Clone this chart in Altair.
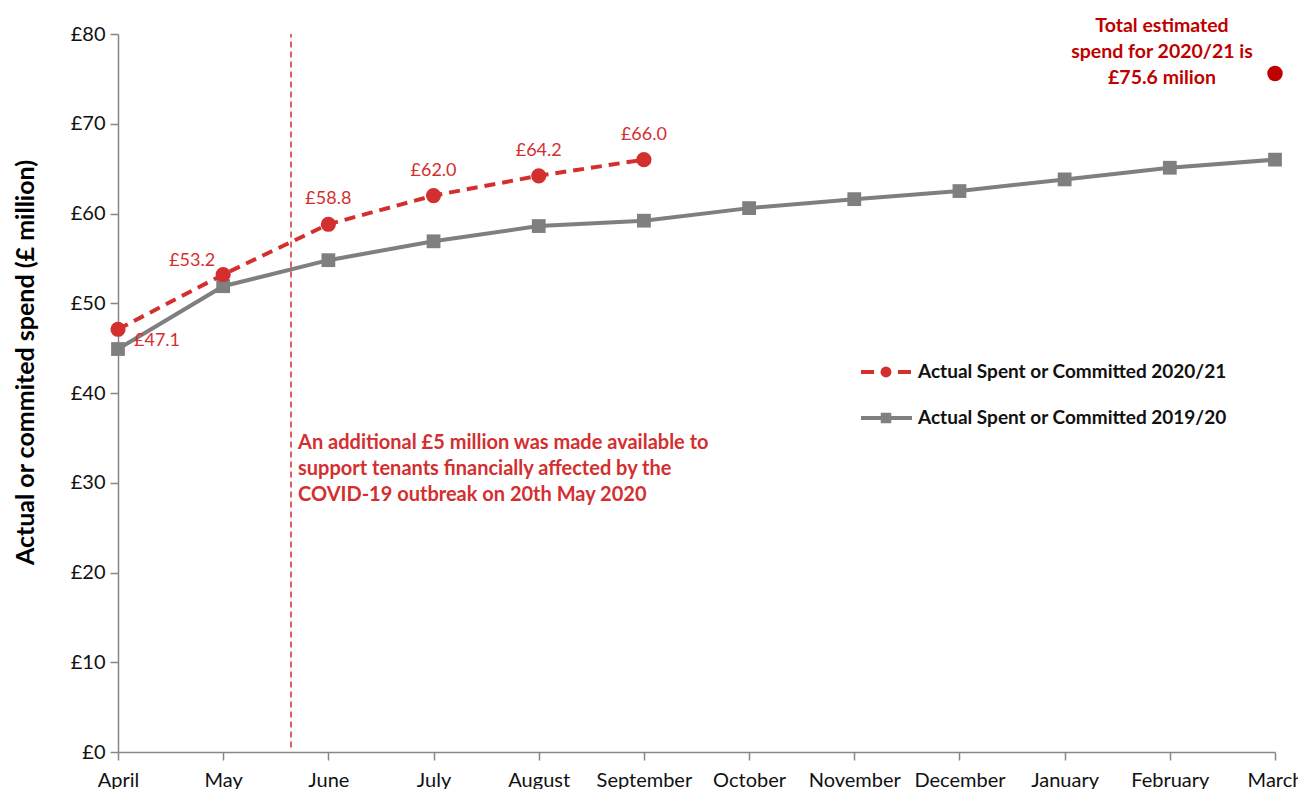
import altair as alt
import pandas as pd

months = ["April", "May", "June", "July", "August", "September",
          "October", "November", "December", "January", "February", "March"]
spend_2019 = [44.9, 51.9, 54.8, 56.9, 58.6, 59.2, 60.6, 61.6, 62.5, 63.8, 65.1, 66.0]
spend_2020 = [47.1, 53.2, 58.8, 62.0, 64.2, 66.0]
total_estimate = 75.6
announce_pos = 1.645      # 20th May, in month-index units
annotation_y = 35.5
annotation_text = ("An additional £5 million was made available to\n"
                   "support  tenants financially affected by the\n"
                   "COVID-19 outbreak on 20th May 2020")
total_text = "Total estimated\nspend for 2020/21 is\n£75.6 milion"
legend_2020 = "Actual Spent or Committed 2020/21"
legend_2019 = "Actual Spent or Committed 2019/20"

FONT = "Lato"
RED = "#d42f2f"
DARKRED = "#c00000"
GRAY = "#7f7f7f"
AXIS = "#868686"

df19 = pd.DataFrame({"i": list(range(12)), "v": spend_2019})
df20 = pd.DataFrame({"i": list(range(len(spend_2020))), "v": spend_2020})
df20["label"] = ["£%.1f" % v for v in spend_2020]
dftot = pd.DataFrame({"i": [len(months) - 1], "v": [total_estimate], "t": [total_text]})
dfrule = pd.DataFrame({"i": [announce_pos], "y0": [0.5], "y1": [80], "ya": [annotation_y], "t": [annotation_text]})
dfone = pd.DataFrame({"a": [legend_2020], "b": [legend_2019]})

label_expr = "[" + ",".join("'%s'" % m for m in months) + "][datum.value]"

x_enc = alt.X("i:Q", scale=alt.Scale(domain=[0, 11], nice=False, zero=False),
              axis=alt.Axis(values=list(range(12)), labelExpr=label_expr, title=None, grid=False,
                            tickSize=8, labelFontSize=20, labelPadding=10, labelColor="#111",
                            domainColor=AXIS, tickColor=AXIS, domainWidth=1.5, tickWidth=1.5,
                            labelFont=FONT, labelFlush=False))
y_enc = alt.Y("v:Q", scale=alt.Scale(domain=[0, 80], nice=False),
              axis=alt.Axis(values=list(range(0, 81, 10)), labelExpr="'£' + datum.value",
                            title="Actual or commited spend (£ million)", grid=False,
                            tickSize=8, labelFontSize=20, labelPadding=5, labelColor="#111",
                            domainColor=AXIS, tickColor=AXIS, domainWidth=1.5, tickWidth=1.5,
                            labelFont=FONT, titleFont=FONT, titleFontSize=25, titleFontWeight="bold",
                            titleColor="#000", titleX=-93, titleY=328, titleAngle=-90,
                            titleAlign="center", titleBaseline="middle"))

gray_line = alt.Chart(df19).mark_line(color=GRAY, strokeWidth=4).encode(x=x_enc, y=y_enc)
gray_pts = alt.Chart(df19).mark_point(shape="square", filled=True, size=190, color=GRAY, opacity=1).encode(x="i:Q", y="v:Q")
red_line = alt.Chart(df20).mark_line(color=RED, strokeWidth=4, strokeDash=[11, 7]).encode(x="i:Q", y="v:Q")
red_pts = alt.Chart(df20).mark_circle(size=230, color=RED, opacity=1).encode(x="i:Q", y="v:Q")

lab_base = alt.Chart(df20)
lab_above = lab_base.transform_filter("datum.i >= 2").mark_text(
    font=FONT, fontSize=18, color=RED, dy=-25, baseline="middle", align="center"
).encode(x="i:Q", y="v:Q", text="label:N")
lab_apr = lab_base.transform_filter("datum.i == 0").mark_text(
    font=FONT, fontSize=18, color=RED, dx=16, dy=12, baseline="middle", align="left"
).encode(x="i:Q", y="v:Q", text="label:N")
lab_may = lab_base.transform_filter("datum.i == 1").mark_text(
    font=FONT, fontSize=18, color=RED, dx=-8, dy=-14, baseline="middle", align="right"
).encode(x="i:Q", y="v:Q", text="label:N")

tot_pt = alt.Chart(dftot).mark_circle(size=240, color=DARKRED, opacity=1).encode(x="i:Q", y="v:Q")
tot_txt = alt.Chart(dftot).mark_text(
    font=FONT, fontSize=19.5, fontWeight="bold", color=DARKRED, align="center", baseline="top",
    lineBreak="\n", lineHeight=26, dx=-113, dy=-56
).encode(x="i:Q", y="v:Q", text="t:N")

rule = alt.Chart(dfrule).mark_rule(color=RED, strokeWidth=1.5, strokeDash=[6, 4]).encode(
    x="i:Q", y="y0:Q", y2="y1:Q")
ann = alt.Chart(dfrule).mark_text(
    font=FONT, fontSize=20, fontWeight="bold", color=RED, align="left", baseline="top",
    lineBreak="\n", lineHeight=26, dx=7
).encode(x="i:Q", y="ya:Q", text="t:N")

# legend (drawn manually, positions in pixels of plot area)
leg_red_line = alt.Chart(dfone).mark_rule(color=RED, strokeWidth=4, strokeDash=[13, 24]).encode(
    x=alt.value(743), x2=alt.value(793), y=alt.value(338))
leg_red_pt = alt.Chart(dfone).mark_circle(size=120, color=RED, opacity=1).encode(
    x=alt.value(768), y=alt.value(338))
leg_red_txt = alt.Chart(dfone).mark_text(
    font=FONT, fontSize=19, fontWeight="bold", color="#111", align="left", baseline="middle"
).encode(x=alt.value(800), y=alt.value(338), text="a:N")
leg_gray_line = alt.Chart(dfone).mark_rule(color=GRAY, strokeWidth=4).encode(
    x=alt.value(743), x2=alt.value(794), y=alt.value(384))
leg_gray_pt = alt.Chart(dfone).mark_point(shape="square", filled=True, size=110, color=GRAY, opacity=1).encode(
    x=alt.value(768), y=alt.value(384))
leg_gray_txt = alt.Chart(dfone).mark_text(
    font=FONT, fontSize=19, fontWeight="bold", color="#111", align="left", baseline="middle"
).encode(x=alt.value(800), y=alt.value(384), text="b:N")

chart = alt.layer(
    gray_line, gray_pts, rule, red_line, red_pts, lab_above, lab_apr, lab_may,
    tot_pt, tot_txt, ann,
    leg_red_line, leg_red_pt, leg_red_txt, leg_gray_line, leg_gray_pt, leg_gray_txt
).properties(
    width=1157, height=718, background="white",
    autosize=alt.AutoSizeParams(type="none"),
    padding={"left": 110, "top": 26, "right": 23, "bottom": 40}
).configure_view(strokeWidth=0, stroke="transparent")

chart.save("out.html", embed_options={"renderer": "svg", "actions": False})
